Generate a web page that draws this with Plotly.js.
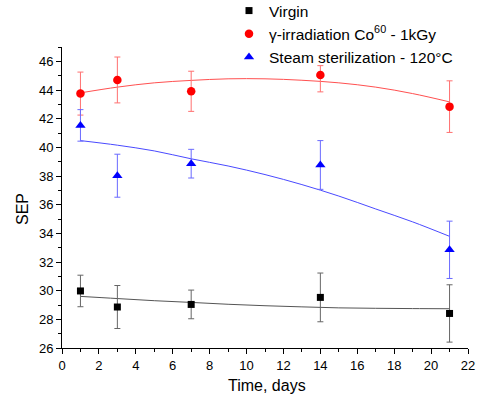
<!DOCTYPE html>
<html>
<head>
<meta charset="utf-8">
<script src="https://cdn.plot.ly/plotly-3.0.1.min.js"></script>
<style>html,body{margin:0;padding:0;background:#fff;}#chart{width:477px;height:401px;}</style>
</head>
<body>
<div id="chart"></div>
<script>
// Measured points
const days = [1, 3, 7, 14, 21];
const virgin = [29.98, 28.86, 29.04, 29.53, 28.41];
const virginErr = [1.1, 1.5, 1.0, 1.7, 2.0];
const gamma = [43.75, 44.70, 43.91, 45.05, 42.84];
const gammaErrPlus = [1.5, 1.6, 1.4, 0.65, 1.8];
const gammaErrMinus = [1.5, 1.6, 1.4, 1.18, 1.8];
const steam = [41.53, 38.02, 38.86, 38.77, 32.85];
const steamErr = [1.1, 1.5, 1.0, 1.7, 2.0];

// Fit curves
const fitDays = [1, 3, 5, 7, 9, 11, 13, 15, 17, 19, 21];
const virginFit = [29.6, 29.45, 29.3, 29.18, 29.05, 28.95, 28.87, 28.8, 28.77, 28.75, 28.74];
const gammaFit = [43.8, 44.2, 44.5, 44.67, 44.78, 44.78, 44.68, 44.5, 44.2, 43.75, 43.17];
const steamFit = [40.47, 40.15, 39.75, 39.2, 38.7, 38.1, 37.4, 36.6, 35.7, 34.8, 33.79];

const xTicks = [0, 2, 4, 6, 8, 10, 12, 14, 16, 18, 20, 22];
const yTicks = [26, 28, 30, 32, 34, 36, 38, 40, 42, 44, 46];

const names = ['Virgin', '\u03b3-irradiation Co<sup>60</sup> - 1kGy', 'Steam sterilization - 120\u00b0C'];
const xTitle = 'Time, days';
const yTitle = 'SEP';

const FONT = 'Liberation Sans, Arial, sans-serif';

const traces = [
  {x: fitDays, y: virginFit, mode: 'lines', line: {color: '#555', width: 1, shape: 'spline'}, showlegend: false, hoverinfo: 'skip'},
  {x: fitDays, y: gammaFit, mode: 'lines', line: {color: '#ff5050', width: 1, shape: 'spline'}, showlegend: false, hoverinfo: 'skip'},
  {x: fitDays, y: steamFit, mode: 'lines', line: {color: '#4a4aff', width: 1, shape: 'spline'}, showlegend: false, hoverinfo: 'skip'},
  {x: days, y: virgin, name: names[0], mode: 'markers', type: 'scatter',
   marker: {symbol: 'square', size: 7, color: '#000'},
   error_y: {type: 'data', array: virginErr, visible: true, color: '#666', thickness: 1, width: 3}},
  {x: days, y: gamma, name: names[1], mode: 'markers', type: 'scatter',
   marker: {symbol: 'circle', size: 8.5, color: '#ff0000'},
   error_y: {type: 'data', symmetric: false, array: gammaErrPlus, arrayminus: gammaErrMinus, visible: true, color: '#ff7070', thickness: 1, width: 3}},
  {x: days, y: steam, name: names[2], mode: 'markers', type: 'scatter',
   marker: {symbol: 'triangle-up', size: 9, color: '#0000ff'},
   error_y: {type: 'data', array: steamErr, visible: true, color: '#6a6aff', thickness: 1, width: 3}}
];

const axisCommon = {
  showgrid: false, zeroline: false, showline: true, linecolor: '#000', linewidth: 1,
  ticks: 'outside', ticklen: 5, tickwidth: 1, tickcolor: '#000',
  tickfont: {family: FONT, size: 13, color: '#000'}
};

// plot area: x 62..468, y 47..348 (pixels)
const layout = {
  width: 477, height: 401,
  margin: {l: 62, r: 9, t: 47, b: 53, autoexpand: false},
  paper_bgcolor: '#fff', plot_bgcolor: '#fff',
  font: {family: FONT, color: '#000'},
  xaxis: Object.assign({}, axisCommon, {
    range: [0, 22], tickvals: xTicks, ticktext: xTicks.map(String),
    minor: {ticks: 'outside', ticklen: 3, tickwidth: 1, tickcolor: '#000', dtick: 1, tick0: 0}
  }),
  yaxis: Object.assign({}, axisCommon, {
    range: [26, 47], tickvals: yTicks, ticktext: yTicks.map(String),
    minor: {ticks: 'outside', ticklen: 3, tickwidth: 1, tickcolor: '#000', dtick: 1, tick0: 0}
  }),
  annotations: [
    {text: xTitle, xref: 'paper', yref: 'paper', x: (267 - 62) / 406, y: (348 - 385) / 301,
     xanchor: 'center', yanchor: 'middle', showarrow: false, font: {size: 16, family: FONT, color: '#000'}},
    {text: yTitle, xref: 'paper', yref: 'paper', x: (22 - 62) / 406, y: (348 - 209) / 301,
     xanchor: 'center', yanchor: 'middle', textangle: -90, showarrow: false, font: {size: 16, family: FONT, color: '#000'}}
  ],
  legend: {
    xref: 'paper', yref: 'paper', x: (229 - 62) / 406, y: (348 + 6) / 301, xanchor: 'left', yanchor: 'top',
    font: {size: 15.5, family: FONT},
    bgcolor: 'rgba(0,0,0,0)', tracegroupgap: 0, itemwidth: 30
  },
  showlegend: true
};

Plotly.newPlot('chart', traces, layout, {displayModeBar: false, staticPlot: true});
</script>
</body>
</html>
